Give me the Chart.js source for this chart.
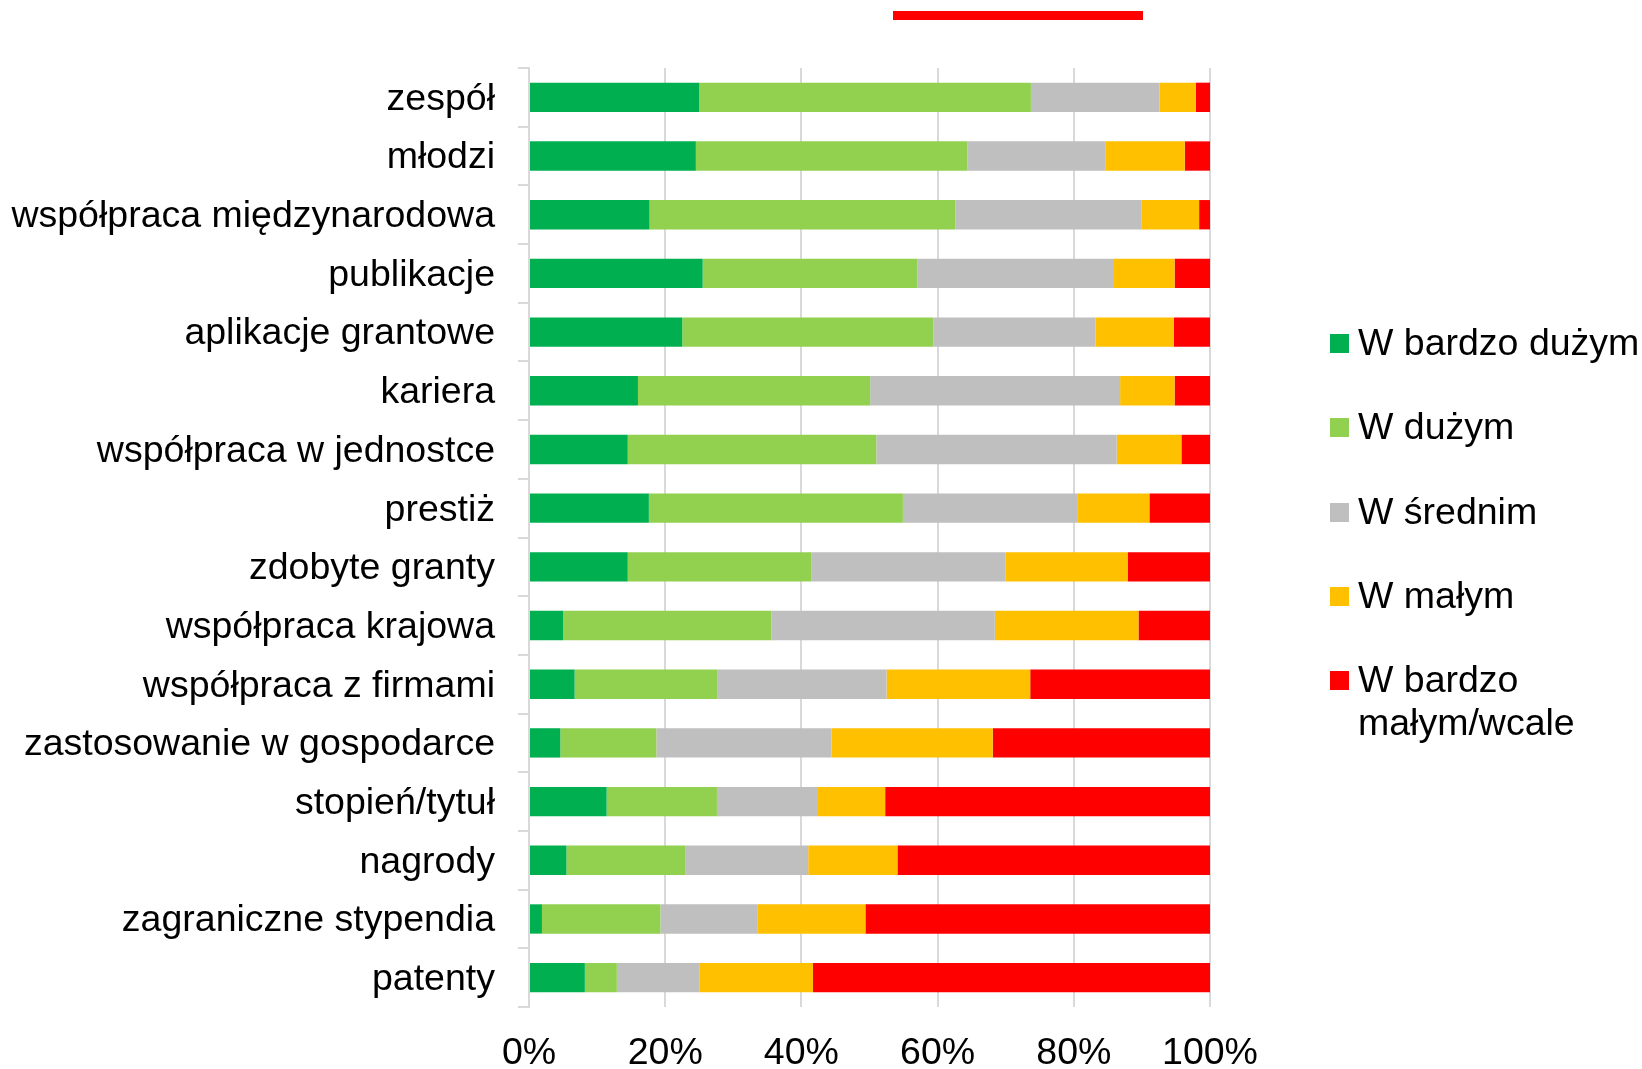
<!DOCTYPE html>
<html lang="pl">
<head>
    <meta charset="UTF-8">
    <title>Wykres</title>
    <style>
        body {
            margin: 0;
            background: #fff;
            overflow: hidden;
            font-family: "Liberation Sans", Arial, sans-serif;
        }
        #wrap {
            position: relative;
            width: 1642px;
            height: 1069px;
        }
        #topLine {
            position: absolute;
            left: 893px;
            top: 11px;
            width: 250px;
            height: 9px;
            background: #ff0000;
        }
        #legend {
            position: absolute;
            left: 1330px;
            top: 321px;
        }
        .item {
            position: absolute;
            left: 0;
            width: 310px;
            font-size: 37.5px;
            line-height: 43px;
            color: #000;
        }
        .box {
            position: absolute;
            left: 0;
            top: 13px;
            width: 19px;
            height: 19px;
        }
        .txt {
            margin-left: 28px;
        }
    </style>
</head>
<body>
<div id="wrap">
    <canvas id="chart" width="1642" height="1069"></canvas>
    <div id="topLine"></div>
    <div id="legend"></div>
</div>

<script src="https://cdn.jsdelivr.net/npm/chart.js"></script>
<script>
    // kategorie (od góry)
    const categories = ['zespół', 'młodzi', 'współpraca międzynarodowa', 'publikacje', 'aplikacje grantowe',
        'kariera', 'współpraca w jednostce', 'prestiż', 'zdobyte granty', 'współpraca krajowa',
        'współpraca z firmami', 'zastosowanie w gospodarce', 'stopień/tytuł', 'nagrody',
        'zagraniczne stypendia', 'patenty'];

    // udziały w %
    const wBardzoDuzym = [25.0, 24.5, 17.7, 25.5, 22.5, 16.0, 14.5, 17.6, 14.5, 5.0, 6.7, 4.6, 11.4, 5.5, 1.9, 8.2];
    const wDuzym       = [48.7, 39.9, 44.9, 31.5, 36.9, 34.1, 36.5, 37.3, 27.0, 30.6, 21.0, 14.1, 16.2, 17.5, 17.4, 4.7];
    const wSrednim     = [18.9, 20.3, 27.3, 28.9, 23.8, 36.7, 35.3, 25.7, 28.5, 32.8, 24.8, 25.7, 14.7, 18.0, 14.3, 12.1];
    const wMalym       = [5.3, 11.6, 8.5, 8.9, 11.5, 8.0, 9.5, 10.5, 17.9, 21.1, 21.1, 23.7, 10.0, 13.1, 15.8, 16.7];
    const wBardzoMalym = [2.1, 3.7, 1.6, 5.2, 5.3, 5.2, 4.2, 8.9, 12.1, 10.5, 26.4, 31.9, 47.7, 45.9, 50.6, 58.3];

    const seriesNames = ['W bardzo dużym', 'W dużym', 'W średnim', 'W małym', ['W bardzo', 'małym/wcale']];
    const seriesColors = ['#00b050', '#92d050', '#bfbfbf', '#ffc000', '#ff0000'];
    const xTicks = [0, 20, 40, 60, 80, 100];

    const allSeries = [wBardzoDuzym, wDuzym, wSrednim, wMalym, wBardzoMalym];
    const FONT_SIZE = 37.5;

    Chart.defaults.font.family = '"Liberation Sans", Arial, sans-serif';
    Chart.defaults.color = '#000';

    new Chart(document.getElementById('chart'), {
        type: 'bar',
        data: {
            labels: categories,
            datasets: allSeries.map((vals, i) => ({
                label: [].concat(seriesNames[i]).join(' '),
                data: vals,
                backgroundColor: seriesColors[i],
                borderWidth: 0,
                barPercentage: 0.5,
                categoryPercentage: 1.0
            }))
        },
        options: {
            indexAxis: 'y',
            responsive: false,
            animation: false,
            layout: {
                padding: { left: 0, top: 68, right: 432, bottom: 0 }
            },
            plugins: {
                legend: { display: false },
                tooltip: { enabled: false }
            },
            scales: {
                x: {
                    stacked: true,
                    min: 0,
                    max: 100,
                    afterBuildTicks: (axis) => {
                        axis.ticks = xTicks.map(v => ({ value: v }));
                    },
                    afterFit: (axis) => { axis.height = 62; },
                    ticks: {
                        font: { size: FONT_SIZE },
                        padding: 24,
                        callback: (v) => v + '%'
                    },
                    grid: {
                        color: '#d9d9d9',
                        lineWidth: 2,
                        drawTicks: false
                    },
                    border: { display: false }
                },
                y: {
                    stacked: true,
                    afterFit: (axis) => { axis.width = 529; },
                    ticks: {
                        font: { size: FONT_SIZE },
                        padding: 23,
                        labelOffset: 2
                    },
                    grid: {
                        drawOnChartArea: false,
                        drawTicks: true,
                        tickLength: 11,
                        color: '#d9d9d9',
                        lineWidth: 2
                    },
                    border: { display: true, color: '#d9d9d9', width: 2 }
                }
            }
        }
    });

    // legenda po prawej (tekst w HTML)
    const legend = document.getElementById('legend');
    seriesNames.forEach((name, i) => {
        const item = document.createElement('div');
        item.className = 'item';
        item.style.top = (i * 84.3) + 'px';
        const box = document.createElement('div');
        box.className = 'box';
        box.style.background = seriesColors[i];
        const txt = document.createElement('div');
        txt.className = 'txt';
        txt.innerHTML = [].concat(name).join('<br>');
        item.appendChild(box);
        item.appendChild(txt);
        legend.appendChild(item);
    });
</script>
</body>
</html>
